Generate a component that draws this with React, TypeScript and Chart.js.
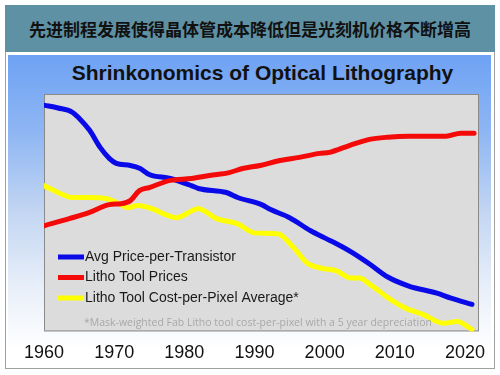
import React, { useEffect, useRef } from "react";
import { Chart, registerables } from "chart.js";

Chart.register(...registerables);

const pageTitle = "先进制程发展使得晶体管成本降低但是光刻机价格不断增高";
const chartTitle = "Shrinkonomics of Optical Lithography";
const footnote = "*Mask-weighted Fab Litho tool cost-per-pixel with a 5 year depreciation";
const tickYears = [1960, 1970, 1980, 1990, 2000, 2010, 2020];

const seriesLabels = ["Avg Price-per-Transistor", "Litho Tool Prices", "Litho Tool Cost-per-Pixel Average*"];

const priceYears = [1960, 1962, 1964, 1965, 1966.5, 1968, 1969.3, 1970.3, 1972.3, 1973.7, 1975, 1978, 1981, 1982, 1986, 1987.6, 1991, 1992.3, 1995, 1998, 2000, 2002.3, 2004, 2006.4, 2009, 2012, 2016, 2018, 2021];
const priceValues = [95.3, 94.1, 92.4, 89.8, 84.7, 77.5, 72.9, 70.8, 69.9, 68.6, 66.1, 64.4, 61.4, 60.2, 58.5, 56.4, 53.4, 51.3, 47.9, 42.4, 39.4, 36.0, 33.1, 28.4, 22.9, 19.1, 16.1, 14.0, 11.4];

const toolYears = [1960, 1963.6, 1966.4, 1969.3, 1971, 1972.3, 1973.6, 1975, 1978, 1981, 1983.6, 1986.4, 1988.3, 1990.8, 1993.6, 1996.4, 1999.3, 2000.7, 2003.6, 2006.4, 2009, 2012, 2017.3, 2019.4, 2021.3];
const toolValues = [44.5, 47.5, 50.0, 53.4, 53.8, 55.1, 59.3, 60.6, 63.6, 64.4, 65.7, 66.9, 68.6, 69.9, 72.0, 73.3, 75.0, 75.4, 78.4, 80.9, 81.8, 82.2, 82.2, 83.5, 83.5];

const pixelYears = [1960, 1962.3, 1964, 1966.4, 1969, 1970.7, 1972, 1973.3, 1975, 1978.9, 1982, 1984.6, 1987.6, 1990, 1993.3, 1995.6, 1997.5, 1999.4, 2001.8, 2003.7, 2005, 2006.4, 2007.4, 2009.3, 2011.6, 2014, 2016.9, 2018.9, 2021];
const pixelValues = [61.4, 58.1, 56.4, 56.4, 55.9, 53.8, 52.1, 53.0, 52.1, 47.9, 51.7, 47.5, 45.3, 41.5, 41.1, 35.2, 28.8, 26.7, 25.4, 22.5, 22.5, 19.9, 17.8, 13.6, 9.7, 7.2, 3.4, 4.2, 0.8];

const seriesColors = ["#0a0ae8", "#f50a0a", "#ffff00"];

const toPoints = (xs: number[], ys: number[]) => xs.map((x, i) => ({ x, y: ys[i] }));

const plotDecor = {
  id: "plotDecor",
  beforeDatasetsDraw(chart: any) {
    const { ctx, chartArea: a } = chart;
    ctx.save();
    ctx.fillStyle = "#dcdcdc";
    ctx.fillRect(a.left, a.top, a.right - a.left, a.bottom - a.top);
    ctx.strokeStyle = "#8a8a8a";
    ctx.lineWidth = 1;
    ctx.strokeRect(a.left + 0.5, a.top + 0.5, a.right - a.left - 1, a.bottom - a.top - 1);
    ctx.restore();
  },
  afterDatasetsDraw(chart: any) {
    const { ctx, chartArea: a } = chart;
    ctx.save();
    const ds = chart.data.datasets;
    const baseY = a.top + 163;
    ctx.font = '14px Arial, "Liberation Sans", sans-serif';
    ctx.textBaseline = "middle";
    ds.forEach((d: any, i: number) => {
      const y = baseY + i * 20.5;
      ctx.strokeStyle = d.borderColor;
      ctx.lineWidth = 5;
      ctx.beginPath();
      ctx.moveTo(a.left + 14, y);
      ctx.lineTo(a.left + 40, y);
      ctx.stroke();
      ctx.fillStyle = "#1a1a1a";
      ctx.fillText(d.label, a.left + 41, y);
    });
    ctx.font = '10.5px "Open Sans", sans-serif';
    ctx.fillStyle = "#a8a8a8";
    ctx.fillText(footnote, a.left + 40, a.bottom - 8);
    ctx.restore();
  },
};

export default function App() {
  const ref = useRef<HTMLCanvasElement>(null);
  useEffect(() => {
    if (!ref.current) return;
    const series = [
      toPoints(priceYears, priceValues),
      toPoints(toolYears, toolValues),
      toPoints(pixelYears, pixelValues),
    ];
    const drawOrder = [1, 0, 2];
    const chart = new Chart(ref.current, {
      type: "line",
      data: {
        datasets: series.map((pts, i) => ({
          label: seriesLabels[i],
          data: pts,
          borderColor: seriesColors[i],
          backgroundColor: seriesColors[i],
          borderWidth: 5,
          pointRadius: 0,
          tension: 0.35,
          cubicInterpolationMode: "monotone" as const,
          order: drawOrder[i],
          borderCapStyle: "round" as const,
          borderJoinStyle: "round" as const,
        })),
      },
      options: {
        animation: false,
        responsive: false,
        layout: { padding: { left: 44, right: 21, top: 94, bottom: 0 } },
        plugins: { legend: { display: false }, tooltip: { enabled: false }, title: { display: false } },
        scales: {
          x: {
            type: "linear",
            min: 1960,
            max: 2022,
            grid: { display: false, drawTicks: false },
            border: { display: false },
            afterBuildTicks: (s: any) => {
              s.ticks = tickYears.map((v) => ({ value: v }));
            },
            ticks: {
              padding: 11,
              color: "#111",
              font: { family: 'Arial, "Liberation Sans", sans-serif', size: 18 },
              callback: (v: any) => String(v),
              maxRotation: 0,
              autoSkip: false,
            },
          },
          y: { display: false, min: 0, max: 100 },
        },
      },
      plugins: [plotDecor],
    });
    return () => chart.destroy();
  }, []);

  return (
    <div style={{ position: "absolute", left: 0, top: 0, width: 500, height: 375, background: "#fff", overflow: "hidden" }}>
      <div style={{ position: "absolute", left: 5, top: 5, width: 488, height: 362, border: "1px solid #a0a0a0", background: "#fff" }} />
      <div
        style={{
          position: "absolute", left: 5, top: 5, width: 490, height: 47, background: "#5f91a5",
          display: "flex", alignItems: "center", justifyContent: "center",
          fontFamily: '"Noto Sans CJK SC", sans-serif', fontWeight: 700, fontSize: 17, color: "#111",
        }}
      >
        {pageTitle}
      </div>
      <div
        style={{
          position: "absolute", left: 8, top: 55, width: 483, height: 311,
          background: "linear-gradient(to bottom, #6ea2f4 0%, #8fb6f3 25%, #c2d5f2 50%, #e8eff9 75%, #ffffff 95%)",
        }}
      />
      <div
        style={{
          position: "absolute", left: 0, top: 61, width: 525, textAlign: "center",
          fontFamily: 'Arial, "Liberation Sans", sans-serif', fontWeight: 700, fontSize: 21, color: "#111", lineHeight: "24px",
        }}
      >
        {chartTitle}
      </div>
      <canvas ref={ref} width={500} height={375} style={{ position: "absolute", left: 0, top: 0 }} />
    </div>
  );
}
